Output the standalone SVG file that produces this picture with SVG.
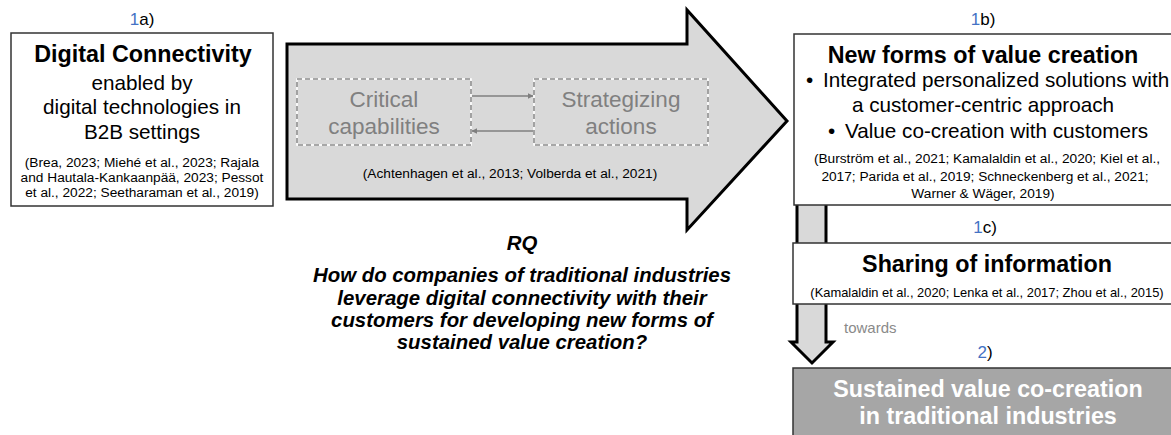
<svg xmlns="http://www.w3.org/2000/svg" width="1171" height="435" viewBox="0 0 1171 435">
<defs>
<style>
text{font-family:"Liberation Sans",Arial,sans-serif;fill:#000}
.lbl{font-size:17px;text-anchor:middle}
.num{fill:#4472c4}
.ttl{font-size:23.3px;font-weight:bold;text-anchor:middle}
.reg{font-size:20.7px;text-anchor:middle}
.regs{font-size:20.7px;text-anchor:start}
.cit{font-size:13.7px;text-anchor:middle}
.box{fill:#fff;stroke:#333;stroke-width:1.5}
.dsh{fill:none;stroke:#fff;stroke-width:1.6}
.dsh2{fill:none;stroke:#8c8c8c;stroke-width:1.6;stroke-dasharray:5 3}
.gt{font-size:22.5px;fill:#808080;text-anchor:middle}
.rq{font-size:20.4px;font-weight:bold;font-style:italic;text-anchor:middle}
.big{fill:#d9d9d9;stroke:#000;stroke-width:3;stroke-linejoin:miter}
.lnk{stroke:#7f7f7f;stroke-width:1.5;fill:none}
</style>
<marker id="ah" viewBox="0 0 10 10" refX="9" refY="5" markerWidth="4" markerHeight="4" orient="auto-start-reverse">
<path d="M0,0 L10,5 L0,10 z" fill="#7f7f7f"/>
</marker>
</defs>
<rect width="1171" height="435" fill="#fff"/>

<g id="connectors">
<polygon class="big" points="287,44 687,44 687,10 787,121 687,230 687,199 287,199"/>
<polygon class="big" stroke-width="2.6" points="797,200 826,200 826,342 833,342 812,363 791,342 797,342"/>
<line class="lnk" x1="472" y1="96" x2="533" y2="96" marker-end="url(#ah)"/>
<line class="lnk" x1="533" y1="131" x2="472" y2="131" marker-end="url(#ah)"/>
</g>

<g id="node-1a">
<text class="lbl" x="142" y="25"><tspan class="num">1</tspan>a)</text>
<rect class="box" x="11" y="33" width="262" height="173"/>
<text class="ttl" x="143" y="62">Digital Connectivity</text>
<text class="reg" x="142" y="90">enabled by</text>
<text class="reg" x="142" y="114">digital technologies in</text>
<text class="reg" x="142" y="139">B2B settings</text>
<text class="cit" x="142" y="167">(Brea, 2023; Miehé et al., 2023; Rajala</text>
<text class="cit" x="142" y="182">and Hautala-Kankaanpää, 2023; Pessot</text>
<text class="cit" x="142" y="197">et al., 2022; Seetharaman et al., 2019)</text>
</g>

<g id="node-critical">
<rect class="dsh" x="297" y="79" width="174" height="66"/>
<rect class="dsh2" x="297" y="79" width="174" height="66"/>
<text class="gt" x="384" y="107">Critical</text>
<text class="gt" x="384" y="134">capabilities</text>
</g>

<g id="node-strategizing">
<rect class="dsh" x="534" y="79" width="174" height="66"/>
<rect class="dsh2" x="534" y="79" width="174" height="66"/>
<text class="gt" x="621" y="107">Strategizing</text>
<text class="gt" x="621" y="134">actions</text>
</g>

<g id="node-arrow-citation">
<text class="cit" x="510" y="178">(Achtenhagen et al., 2013; Volberda et al., 2021)</text>
</g>

<g id="node-rq">
<text class="rq" x="522" y="250">RQ</text>
<text class="rq" x="522" y="282">How do companies of traditional industries</text>
<text class="rq" x="522" y="305">leverage digital connectivity with their</text>
<text class="rq" x="522" y="327">customers for developing new forms of</text>
<text class="rq" x="522" y="349">sustained value creation?</text>
</g>

<g id="node-1b">
<text class="lbl" x="983" y="25"><tspan class="num">1</tspan>b)</text>
<rect class="box" x="794" y="34" width="390" height="171"/>
<text class="ttl" x="983" y="63">New forms of value creation</text>
<text class="regs" x="806" y="87">•</text>
<text class="regs" x="823" y="87">Integrated personalized solutions with</text>
<text class="reg" x="983" y="112">a customer-centric approach</text>
<text class="regs" x="828" y="138">•</text>
<text class="regs" x="845" y="138">Value co-creation with customers</text>
<text class="cit" x="987" y="163">(Burström et al., 2021; Kamalaldin et al., 2020; Kiel et al.,</text>
<text class="cit" x="985" y="181">2017; Parida et al., 2019; Schneckenberg et al., 2021;</text>
<text class="cit" x="983" y="198">Warner &amp; Wäger, 2019)</text>
</g>

<g id="node-1c">
<text class="lbl" x="985" y="233"><tspan class="num">1</tspan>c)</text>
<rect class="box" x="793" y="243" width="390" height="61"/>
<text class="ttl" x="987" y="272">Sharing of information</text>
<text class="cit" x="987" y="297" style="font-size:12.9px">(Kamalaldin et al., 2020; Lenka et al., 2017; Zhou et al., 2015)</text>
</g>

<g id="node-towards">
<text x="844" y="333" style="font-size:15px;fill:#8a8a8a">towards</text>
</g>

<g id="node-2">
<text class="lbl" x="985" y="358"><tspan class="num">2</tspan>)</text>
<rect x="793" y="368" width="390" height="80" fill="#a6a6a6" stroke="#333" stroke-width="1.5"/>
<text class="ttl" x="988" y="397" style="fill:#fff">Sustained value co-creation</text>
<text class="ttl" x="988" y="424" style="fill:#fff">in traditional industries</text>
</g>
</svg>
